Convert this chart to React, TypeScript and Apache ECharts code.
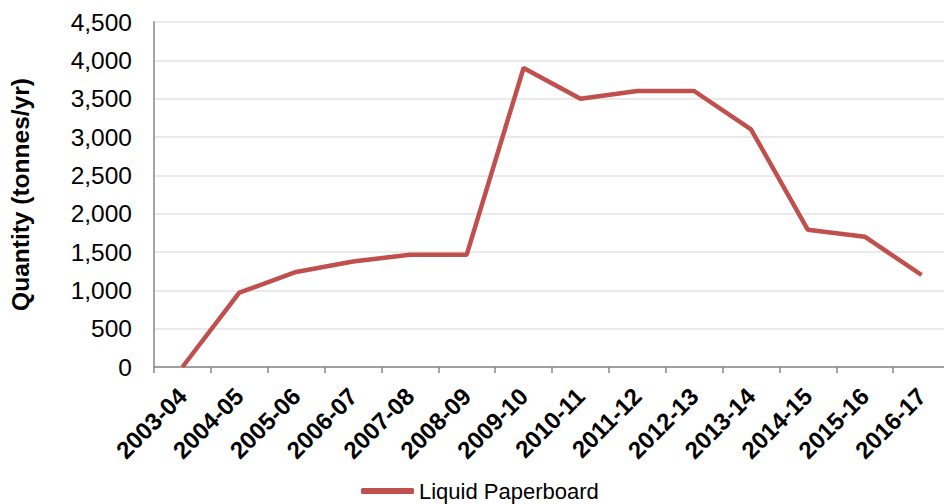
import React, { useEffect, useRef } from "react";
import * as echarts from "echarts";

const categories = [
  "2003-04", "2004-05", "2005-06", "2006-07", "2007-08", "2008-09", "2009-10",
  "2010-11", "2011-12", "2012-13", "2013-14", "2014-15", "2015-16", "2016-17",
];
const liquidPaperboard = [0, 970, 1240, 1375, 1465, 1465, 3900, 3500, 3600, 3600, 3100, 1790, 1700, 1200];
const seriesName = "Liquid Paperboard";
const yTitle = "Quantity (tonnes/yr)";

export default function App() {
  const ref = useRef<HTMLDivElement>(null);
  useEffect(() => {
    if (!ref.current) return;
    const chart = echarts.init(ref.current, null, { renderer: "svg" });
    chart.setOption({
      animation: false,
      backgroundColor: "#ffffff",
      textStyle: { fontFamily: "Liberation Sans, Arial, sans-serif" },
      grid: { left: 152, top: 22, width: 798, height: 345, containLabel: false },
      legend: {
        data: [seriesName],
        left: 356,
        top: 475,
        icon: "roundRect",
        itemWidth: 53,
        itemHeight: 6,
        textStyle: { fontSize: 22, color: "#000", fontFamily: "Liberation Sans, Arial, sans-serif" },
      },
      xAxis: {
        type: "category",
        data: categories,
        boundaryGap: true,
        axisLine: { lineStyle: { color: "#868686", width: 1.5 } },
        axisTick: { show: true, length: 6, lineStyle: { color: "#868686", width: 1.5 } },
        axisLabel: {
          rotate: 45,
          fontSize: 24,
          fontWeight: "bold",
          color: "#000",
          margin: 25,
          padding: [0, 0, 10, 0],
          interval: 0,
        },
        splitLine: { show: false },
      },
      yAxis: {
        type: "value",
        min: 0,
        max: 4500,
        interval: 500,
        name: yTitle,
        nameLocation: "middle",
        nameGap: 121,
        nameTextStyle: { fontSize: 24.5, fontWeight: "bold", color: "#000" },
        axisLine: { show: true, lineStyle: { color: "#868686", width: 1.5 } },
        axisTick: { show: false },
        axisLabel: {
          fontSize: 24.5,
          color: "#000",
          margin: 22,
          formatter: (v: number) => v.toLocaleString("en-US"),
        },
        splitLine: { show: true, lineStyle: { color: "#e3e3e3", width: 1.5 } },
      },
      series: [
        {
          name: seriesName,
          type: "line",
          data: liquidPaperboard,
          symbol: "none",
          lineStyle: { color: "#C0504D", width: 4.5 },
          itemStyle: { color: "#C0504D" },
        },
      ],
    });
    return () => chart.dispose();
  }, []);
  return (
    <div style={{ position: "fixed", left: 0, top: 0, width: 944, height: 504, overflow: "hidden", background: "#fff" }}>
      <div ref={ref} style={{ width: 960, height: 504 }} />
    </div>
  );
}
